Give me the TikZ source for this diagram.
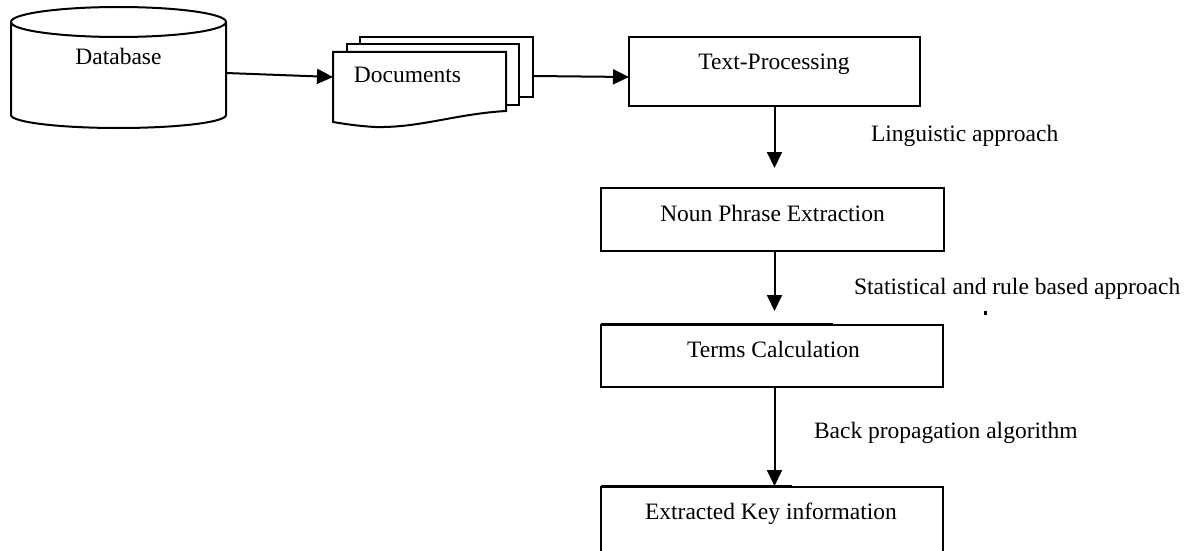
\documentclass[tikz,border=0pt]{standalone}
\usepackage{fontspec}
\setmainfont{Liberation Serif}
\usetikzlibrary{arrows.meta}
\begin{document}
\begin{tikzpicture}[x=1pt,y=-1pt,
  line width=2pt, line join=miter,
  txt/.style={inner sep=0pt, anchor=base, font=\fontsize{23.5}{28}\selectfont},
  lbl/.style={inner sep=0pt, anchor=base west, font=\fontsize{23.5}{28}\selectfont},
  stepbox/.style={draw, rectangle, inner sep=0pt},
  arr/.style={-{Triangle[length=16pt,width=15pt]}, line width=2pt}]
\useasboundingbox (0,0) rectangle (1195,551);

% database cylinder
\draw (11,22) -- (11,115) arc[start angle=180, end angle=0, x radius=107.5, y radius=13] -- (226,22);
\draw (118.5,22) ellipse[x radius=107.5, y radius=15];
\node[txt] (db) at (118.5,65) {Database};
\coordinate (dbR) at (226,73);

% stacked documents
\draw[fill=white] (360,44) -- (360,37) -- (533,37) -- (533,97) -- (519,97);
\draw[fill=white] (347,52) -- (347,44) -- (519,44) -- (519,105) -- (506,105);
\draw[fill=white] (333,52) -- (506,52) -- (506,111)
  .. controls (455,114) and (420,128) .. (375,127)
  .. controls (358,126) and (345,124) .. (333,122) -- cycle;
\node[txt] (docs) at (407.5,82) {Documents};
\coordinate (docL) at (333,77);
\coordinate (docR) at (533,76);

% processing boxes
\node[stepbox, minimum width=291pt, minimum height=69pt] (tp) at (774.5,71.5) {};
\node[txt] (tpt) at (774,70) {Text-Processing};
\node[stepbox, minimum width=343pt, minimum height=63pt] (np) at (772.5,219.5) {};
\node[txt] (npt) at (772.5,221) {Noun Phrase Extraction};
\node[stepbox, minimum width=342pt, minimum height=62pt] (tc) at (772,356) {};
\node[txt] (tct) at (773.5,357) {Terms Calculation};
\node[stepbox, minimum width=342pt, minimum height=120pt] (ek) at (772,547) {};
\node[txt] (ekt) at (771,519) {Extracted Key information};
\coordinate (tpIn) at (629,77);

% edge marks along the box tops
\draw[line width=1.4pt] (601,323.5) -- (833,323.5);
\draw[line width=1.4pt] (601,485.5) -- (792,485.5);
\fill (984,311) rectangle (986.5,315);

% approach labels
\node[lbl] (l1) at (870,142) {Linguistic approach};
\node[lbl] (l2) at (853,294) {Statistical and rule based approach};
\node[lbl] (l3) at (813,438) {Back propagation algorithm};

% connectors
\draw[arr] (dbR) -- (docL);
\draw[arr] (docR) -- (tpIn);
\draw[arr, shorten >=19pt] (tp.south) -- (tp.south |- np.north);
\draw[arr, shorten >=13pt] (np.south -| tp.south) -- (tp.south |- tc.north);
\draw[arr] (tc.south -| tp.south) -- (tp.south |- ek.north);
\end{tikzpicture}
\end{document}
